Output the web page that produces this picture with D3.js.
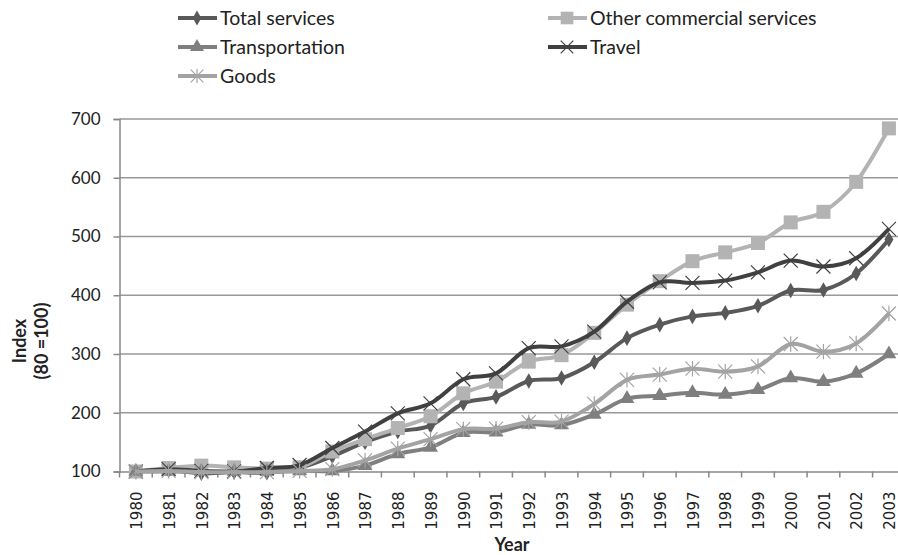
<!DOCTYPE html>
<html><head><meta charset="utf-8">
<script src="https://cdn.jsdelivr.net/npm/d3@7"></script>
<style>body{margin:0;background:#fff}svg{display:block}</style>
</head><body>
<svg id="c" width="898" height="555"></svg>
<script>
const years = ["1980","1981","1982","1983","1984","1985","1986","1987","1988","1989","1990","1991","1992","1993","1994","1995","1996","1997","1998","1999","2000","2001","2002","2003"];
const totalServices = [100,102,97,99,98,106,126,150,168,178,216,227,254,259,286,327,350,364,370,382,408,409,437,495];
const otherCommercial = [100,106,110,107,105,107,134,155,174,194,233,253,287,298,336,384,424,458,473,489,524,542,593,684];
const transportation = [100,100,100,100,100,101,101,110,130,141,166,167,180,179,197,224,229,234,231,239,259,253,267,300];
const travel = [100,104,101,100,106,111,140,168,199,216,257,267,310,313,338,389,422,421,425,439,459,449,463,513];
const goods = [100,101,99,99,99,101,104,119,139,155,172,173,184,185,215,256,265,275,270,279,317,304,318,369];
const yTicks = [100,200,300,400,500,600,700];

const series = [
  {name:"Total services", values:totalServices, color:"#595959", marker:"diamond"},
  {name:"Other commercial services", values:otherCommercial, color:"#b3b3b3", marker:"square"},
  {name:"Transportation", values:transportation, color:"#7f7f7f", marker:"triangle"},
  {name:"Travel", values:travel, color:"#404040", marker:"x"},
  {name:"Goods", values:goods, color:"#a3a3a3", marker:"star"}
];

const svg = d3.select("#c");
const x = d3.scaleBand().domain(years).range([119.5, 905.3]).padding(0);
const y = d3.scaleLinear().domain([100,700]).range([471.5,119]);
const cx = d => x(d) + x.bandwidth()/2;
const font = "Lato, 'Open Sans', sans-serif";

// gridlines
svg.append("g").selectAll("line").data(yTicks.slice(1)).join("line")
  .attr("x1",119.5).attr("x2",898).attr("y1",d=>y(d)).attr("y2",d=>y(d))
  .attr("stroke","#999").attr("stroke-width",1.5);

// y axis
const ya = svg.append("g").attr("transform","translate(119.5,0)")
  .call(d3.axisLeft(y).tickValues(yTicks).tickSize(6).tickPadding(13));
ya.select(".domain").attr("stroke","#888").attr("stroke-width",1.5);
ya.selectAll(".tick line").attr("stroke","#888").attr("stroke-width",1.5);
ya.selectAll("text").attr("font-family",font).attr("font-size",17).attr("fill","#222");

// x axis
const xa = svg.append("g").attr("transform",`translate(0,${y(100)})`)
  .call(d3.axisBottom(x).tickSize(0).tickPadding(0));
xa.select(".domain").attr("stroke","#888").attr("stroke-width",1.5);
xa.selectAll(".tick text").attr("transform","rotate(-90)").attr("text-anchor","end")
  .attr("x",-20).attr("y",1).attr("dy","0.35em")
  .attr("font-family","'DejaVu Sans', sans-serif").attr("font-size",15).attr("fill","#222");
svg.append("g").selectAll("line").data(years.concat(["end"])).join("line")
  .attr("x1",(d,i)=>119.5+i*x.bandwidth()).attr("x2",(d,i)=>119.5+i*x.bandwidth())
  .attr("y1",y(100)).attr("y2",y(100)+6).attr("stroke","#888").attr("stroke-width",1.5);

// axis titles
svg.append("text").attr("transform","translate(26,341) rotate(-90)").attr("text-anchor","middle")
  .attr("font-family",font).attr("font-weight","bold").attr("font-size",18).attr("fill","#222").text("Index");
svg.append("text").attr("transform","translate(48,341) rotate(-90)").attr("text-anchor","middle")
  .attr("font-family",font).attr("font-weight","bold").attr("font-size",18).attr("fill","#222").text("(80 =100)");
svg.append("text").attr("x",512).attr("y",551).attr("text-anchor","middle")
  .attr("font-family",font).attr("font-weight","bold").attr("font-size",18).attr("fill","#222").text("Year");

function drawMarker(g, type, px, py, color, s){
  s = s || 1;
  if(type==="diamond"){
    g.append("path").attr("d",d3.symbol(d3.symbolDiamond, 70*s)()).attr("transform",`translate(${px},${py})`).attr("fill",color);
  } else if(type==="square"){
    g.append("rect").attr("x",px-7*s).attr("y",py-7*s).attr("width",14*s).attr("height",14*s).attr("fill",color);
  } else if(type==="triangle"){
    g.append("path").attr("d",d3.symbol(d3.symbolTriangle, 95*s)()).attr("transform",`translate(${px},${py})`).attr("fill",color);
  } else if(type==="x"){
    const r=7*s;
    g.append("path").attr("d",`M${px-r},${py-r}L${px+r},${py+r}M${px-r},${py+r}L${px+r},${py-r}`).attr("stroke",color).attr("stroke-width",1.2).attr("fill","none");
  } else if(type==="star"){
    const r=7*s;
    g.append("path").attr("d",`M${px-r},${py-r}L${px+r},${py+r}M${px-r},${py+r}L${px+r},${py-r}M${px},${py-r*1.1}L${px},${py+r*1.1}`).attr("stroke",color).attr("stroke-width",1.2).attr("fill","none");
  }
}

const line = d3.line().x((d,i)=>cx(years[i])).y(d=>y(d)).curve(d3.curveCatmullRom.alpha(0));
const plot = svg.append("g");
series.forEach(s=>{
  const g = plot.append("g");
  g.append("path").attr("d",line(s.values)).attr("fill","none").attr("stroke",s.color).attr("stroke-width",4).attr("stroke-linejoin","round");
  s.values.forEach((v,i)=>drawMarker(g, s.marker, cx(years[i]), y(v), s.color));
});

// legend
const legPos = [[178,18],[548,18],[178,47],[548,47],[178,76]];
series.forEach((s,i)=>{
  const [lx,ly] = legPos[i];
  const g = svg.append("g");
  g.append("line").attr("x1",lx).attr("x2",lx+39).attr("y1",ly).attr("y2",ly).attr("stroke",s.color).attr("stroke-width",4);
  drawMarker(g, s.marker, lx+19, ly, s.color, 0.9);
  g.append("text").attr("x",lx+42).attr("y",ly).attr("dy","0.35em")
    .attr("font-family",font).attr("font-size",19.5).attr("fill","#222").text(s.name);
});
</script>
</body></html>
